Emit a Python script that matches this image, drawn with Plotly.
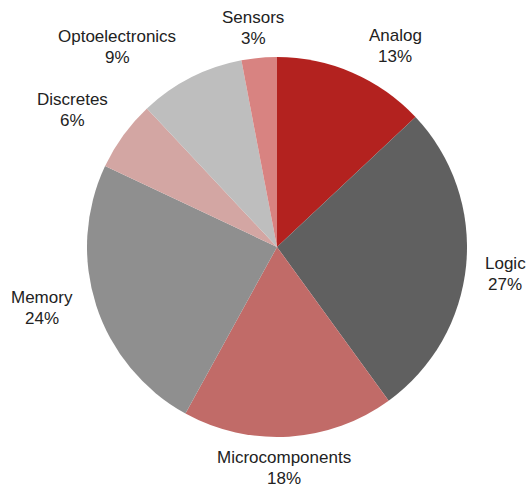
import plotly.graph_objects as go

# Market share by semiconductor segment (clockwise from 12 o'clock)
segments = ["Analog", "Logic", "Microcomponents", "Memory", "Discretes", "Optoelectronics", "Sensors"]
shares = [13, 27, 18, 24, 6, 9, 3]
colors = ["#B3221F", "#606060", "#C16B68", "#8F8F8F", "#D3A6A3", "#BEBEBE", "#D88381"]

# Label anchor points (pixel centres of each two-line label)
label_px = [(395, 46), (505, 274), (284, 468), (42, 308), (72, 110), (117, 47), (253, 28)]

W, H = 531, 487
cx, cy, r = 277, 247, 190
line_gap = 21
font = dict(family="Liberation Sans, Arial, sans-serif", size=17, color="#222222")

fig = go.Figure(go.Pie(
    labels=segments,
    values=shares,
    sort=False,
    direction="clockwise",
    rotation=0,
    marker=dict(colors=colors, line=dict(width=0)),
    textinfo="none",
    hoverinfo="label+percent",
    showlegend=False,
    domain=dict(x=[(cx - r) / W, (cx + r) / W],
                y=[(H - cy - r) / H, (H - cy + r) / H]),
))

for name, val, (px, py) in zip(segments, shares, label_px):
    for text, dy in ((name, -line_gap / 2), (f"{val}%", line_gap / 2)):
        fig.add_annotation(
            x=px / W, y=1 - (py + dy) / H, xref="paper", yref="paper",
            text=text, showarrow=False,
            xanchor="center", yanchor="middle", align="center",
            font=font,
        )

fig.update_layout(
    width=W, height=H,
    margin=dict(l=0, r=0, t=0, b=0),
    paper_bgcolor="white",
    plot_bgcolor="white",
)

fig.write_html("out.html")
